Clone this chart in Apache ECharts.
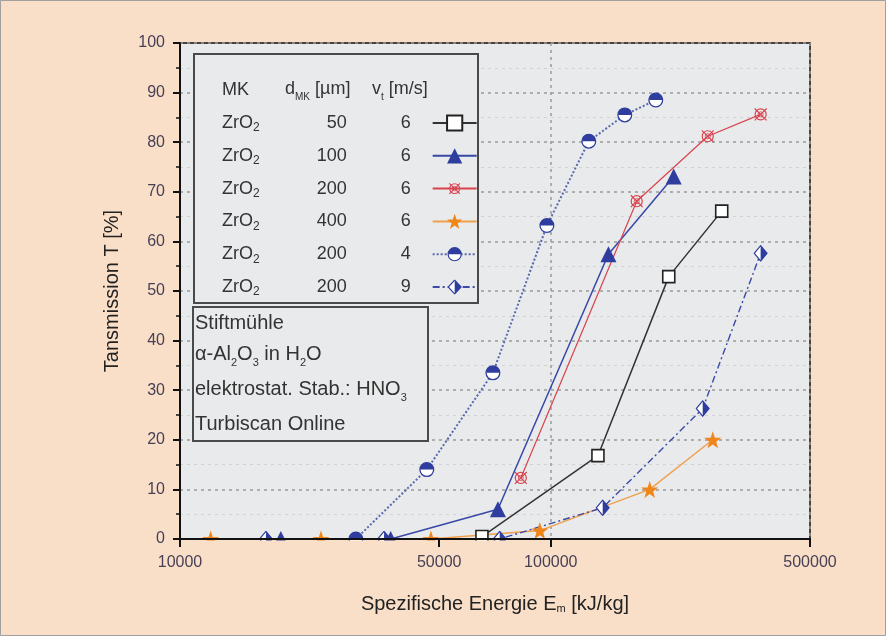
<!DOCTYPE html>
<html>
<head>
<meta charset="utf-8">
<script src="https://cdn.jsdelivr.net/npm/echarts@6/dist/echarts.min.js"></script>
<style>
html,body{margin:0;padding:0;background:#f9dfc8;}
#chart{width:886px;height:636px;}
</style>
</head>
<body>
<div id="chart"></div>
<script>
// Daten
var xTicks = [10000, 50000, 100000, 500000];
var mkRows = ['ZrO', 'ZrO', 'ZrO', 'ZrO', 'ZrO', 'ZrO'];
var dRows = [50, 100, 200, 400, 200, 200];
var vRows = [6, 6, 6, 6, 4, 9];

var sqX = [65200, 134000, 208000, 289000];
var sqY = [0.5, 16.8, 52.9, 66.1];
var triX = [18700, 37000, 72000, 143000, 214500];
var triY = [0, 0, 6, 57.4, 73.1];
var redX = [83000, 170500, 265000, 368000];
var redY = [12.3, 68.1, 81.2, 85.6];
var starX = [12100, 24000, 47500, 93400, 184800, 273400];
var starY = [0, 0, 0, 1.7, 10, 20];
var circX = [29800, 46300, 69800, 97600, 126600, 158300, 191900];
var circY = [0, 14, 33.5, 63.2, 80.2, 85.5, 88.5];
var diaX = [17050, 35500, 72800, 138000, 256800, 368000];
var diaY = [0, 0, 0, 6.3, 26.3, 57.6];

var names = dRows.map(function (d, i) { return 'ZrO2 ' + d + ' ' + vRows[i] + ' ' + i; });

var BLUE = '#2e3d9e';
var RED = '#d9434f';
var ORANGE = '#f08519';
var PEACH = '#f9dfc8';
var PLOTBG = '#e8eaeb';

function pts(xs, ys) { return xs.map(function (x, i) { return [x, ys[i]]; }); }
function svgSym(svg) {
    return 'image://data:image/svg+xml;charset=utf-8,' + encodeURIComponent(svg);
}
var halfCircle = svgSym("<svg xmlns='http://www.w3.org/2000/svg' width='40' height='40' viewBox='0 0 20 20'>" +
    "<circle cx='10' cy='10' r='8.6' fill='#ffffff' stroke='" + BLUE + "' stroke-width='1.6'/>" +
    "<path d='M1.4 10 A8.6 8.6 0 0 1 18.6 10 Z' fill='" + BLUE + "'/></svg>");
var halfDiamond = svgSym("<svg xmlns='http://www.w3.org/2000/svg' width='40' height='40' viewBox='0 0 20 20'>" +
    "<path d='M10 1 L18.5 10 L10 19 L1.5 10 Z' fill='#ffffff' stroke='" + BLUE + "' stroke-width='1.5'/>" +
    "<path d='M10 1 L18.5 10 L10 19 Z' fill='" + BLUE + "'/></svg>");
var crossCircle = svgSym("<svg xmlns='http://www.w3.org/2000/svg' width='40' height='40' viewBox='0 0 20 20'>" +
    "<circle cx='10' cy='10' r='6.5' fill='none' stroke='" + RED + "' stroke-width='1.4'/>" +
    "<path d='M3 3 L17 17 M17 3 L3 17' stroke='" + RED + "' stroke-width='1.4'/>" +
    "<circle cx='10' cy='10' r='3' fill='none' stroke='" + RED + "' stroke-width='1'/></svg>");
var star = 'path://M10,0 L12.35,6.9 L19.5,6.9 L13.8,11.2 L15.9,18.1 L10,14 L4.1,18.1 L6.2,11.2 L0.5,6.9 L7.65,6.9 Z';

var chart = echarts.init(document.getElementById('chart'));

var txt = '#333333';
var option = {
    backgroundColor: PEACH,
    animation: false,
    textStyle: {fontFamily: 'Liberation Sans, Arial, sans-serif'},
    grid: {
        left: 180, right: 76, top: 43, bottom: 97,
        show: true, backgroundColor: PLOTBG, borderColor: '#111', borderWidth: 1.5
    },
    legend: {
        orient: 'vertical',
        left: 217, top: 109,
        align: 'right',
        itemWidth: 44, itemHeight: 19,
        itemGap: 12.8,
        selectedMode: false,
        data: names,
        formatter: function (name) {
            var i = names.indexOf(name);
            return '{z|' + mkRows[i] + '}{s|2}{p| }{d|' + dRows[i] + '}{v|' + vRows[i] + '}{g| }';
        },
        textStyle: {
            rich: {
                z: {fontSize: 18, color: txt, lineHeight: 22},
                s: {fontSize: 12, color: txt, lineHeight: 8, verticalAlign: 'bottom'},
                p: {fontSize: 18, lineHeight: 22, width: 37},
                d: {fontSize: 18, color: txt, lineHeight: 22, width: 50, align: 'right'},
                v: {fontSize: 18, color: txt, lineHeight: 22, width: 64, align: 'right'},
                g: {fontSize: 18, lineHeight: 22, width: 17}
            }
        }
    },
    xAxis: [{
        type: 'log',
        min: 10000, max: 500000,
        z: 5,
        name: 'Spezifische Energie E{s|m} [kJ/kg]',
        nameLocation: 'middle',
        nameGap: 55,
        nameTextStyle: {
            fontSize: 20, color: '#222',
            rich: {s: {fontSize: 11, color: '#222', verticalAlign: 'bottom', lineHeight: 12}}
        },
        axisLine: {lineStyle: {color: '#111', width: 2}},
        axisTick: {show: true, length: 8, lineStyle: {color: '#111', width: 2}, customValues: xTicks},
        axisLabel: {
            customValues: xTicks, margin: 16, fontSize: 16, color: '#463f55',
            formatter: function (v) { return String(Math.round(v)); }
        },
        minorTick: {show: false},
        splitLine: {show: false}
    }, {
        type: 'log',
        min: 10000, max: 500000,
        position: 'top',
        axisLine: {show: false},
        axisTick: {show: false},
        axisLabel: {show: false},
        splitLine: {show: true, lineStyle: {color: '#9a9a9a', type: [3, 4], width: 1.5}}
    }],
    yAxis: {
        type: 'value',
        min: 0, max: 100, interval: 10,
        name: 'Tansmission T [%]',
        nameLocation: 'middle',
        nameGap: 58,
        nameTextStyle: {fontSize: 20, color: '#222'},
        axisLine: {show: true, lineStyle: {color: '#111', width: 2}},
        axisTick: {show: true, length: 7, lineStyle: {color: '#111', width: 2}},
        minorTick: {show: true, splitNumber: 2, length: 4, lineStyle: {color: '#111', width: 1.5}},
        axisLabel: {margin: 15, fontSize: 16, color: '#463f55'},
        splitLine: {show: true, lineStyle: {color: '#9a9a9a', type: [3, 4], width: 1.5}},
        minorSplitLine: {show: true, lineStyle: {color: '#d2d2d2', type: [3, 4], width: 1.2}}
    },
    graphic: {
        elements: [
            {type: 'rect', z: 3, silent: true, shape: {x: 182, y: 540.5, width: 627, height: 14}, style: {fill: PEACH}},
            {type: 'rect', z: 1, silent: true, shape: {x: 194, y: 54, width: 284, height: 249},
                style: {fill: PLOTBG, stroke: '#4a4a4a', lineWidth: 2}},
            {type: 'rect', z: 1, silent: true, shape: {x: 193, y: 307, width: 235, height: 134},
                style: {fill: PLOTBG, stroke: '#4a4a4a', lineWidth: 2}},
            {type: 'text', z: 5, left: 222, top: 81, style: {text: 'MK', fontSize: 18, fill: txt, fontFamily: 'Liberation Sans'}},
            {type: 'text', z: 5, left: 285, top: 76, style: {
                text: 'd{s|MK} [µm]', fontSize: 18, fill: txt, fontFamily: 'Liberation Sans', lineHeight: 26,
                rich: {s: {fontSize: 10, fill: txt, verticalAlign: 'bottom', lineHeight: 12}}}},
            {type: 'text', z: 5, left: 372, top: 76, style: {
                text: 'v{s|t} [m/s]', fontSize: 18, fill: txt, fontFamily: 'Liberation Sans', lineHeight: 26,
                rich: {s: {fontSize: 10, fill: txt, verticalAlign: 'bottom', lineHeight: 12}}}},
            {type: 'text', z: 5, left: 195, top: 309, style: {
                text: 'Stiftmühle', fontSize: 20, fill: txt, fontFamily: 'Liberation Sans', lineHeight: 28}},
            {type: 'text', z: 5, left: 195, top: 340, style: {
                text: 'α-Al{s|2}O{s|3} in H{s|2}O', fontSize: 20, fill: txt, fontFamily: 'Liberation Sans', lineHeight: 28,
                rich: {s: {fontSize: 11, fill: txt, verticalAlign: 'bottom', lineHeight: 12}}}},
            {type: 'text', z: 5, left: 195, top: 375, style: {
                text: 'elektrostat. Stab.: HNO{s|3}', fontSize: 20, fill: txt, fontFamily: 'Liberation Sans', lineHeight: 28,
                rich: {s: {fontSize: 11, fill: txt, verticalAlign: 'bottom', lineHeight: 10}}}},
            {type: 'text', z: 5, left: 195, top: 410, style: {
                text: 'Turbiscan Online', fontSize: 20, fill: txt, fontFamily: 'Liberation Sans', lineHeight: 28}},
            {type: 'rect', z: 10, silent: true, shape: {x: 0.5, y: 0.5, width: 885, height: 635},
                style: {fill: 'none', stroke: '#a0a0a0', lineWidth: 1}}
        ]
    },
    series: [{
        name: names[0], type: 'line', clip: false, z: 2,
        data: pts(sqX, sqY),
        symbol: 'rect', symbolSize: 12,
        itemStyle: {color: '#ffffff', borderColor: '#222', borderWidth: 1.6},
        lineStyle: {color: '#333', width: 1.5}
    }, {
        name: names[1], type: 'line', clip: false, z: 2,
        data: pts(triX, triY),
        symbol: 'triangle', symbolSize: 16,
        itemStyle: {color: BLUE},
        lineStyle: {color: '#3848a8', width: 1.5}
    }, {
        name: names[2], type: 'line', clip: false, z: 2,
        data: pts(redX, redY),
        symbol: crossCircle, symbolSize: 17,
        itemStyle: {color: RED},
        lineStyle: {color: RED, width: 1.2}
    }, {
        name: names[3], type: 'line', clip: false, z: 2,
        data: pts(starX, starY),
        symbol: star, symbolSize: 17,
        itemStyle: {color: ORANGE},
        lineStyle: {color: '#f0a04c', width: 1.4}
    }, {
        name: names[4], type: 'line', clip: false, z: 2,
        data: pts(circX, circY),
        symbol: halfCircle, symbolSize: 16,
        itemStyle: {color: BLUE},
        lineStyle: {color: '#5a68b0', width: 2, type: 'dotted'}
    }, {
        name: names[5], type: 'line', clip: false, z: 2,
        data: pts(diaX, diaY),
        symbol: halfDiamond, symbolSize: [15, 17],
        itemStyle: {color: BLUE},
        lineStyle: {color: '#3c4aa8', width: 1.4, type: [7, 3, 2, 3]}
    }]
};
chart.setOption(option);
</script>
</body>
</html>
